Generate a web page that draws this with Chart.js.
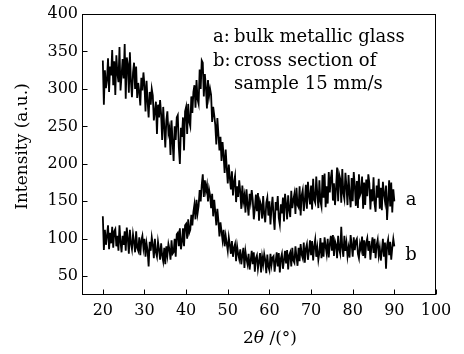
<!DOCTYPE html>
<html><head><meta charset="utf-8">
<script src="https://cdn.jsdelivr.net/npm/chart.js@4.4.1/dist/chart.umd.min.js"></script>
<style>html,body{margin:0;padding:0;background:#fff}canvas{display:block}</style>
</head><body>
<canvas id="c" width="464" height="354"></canvas>
<script>
// 2θ sampling grid (degrees)
const angleStart = 20;
const angleStep = 0.25;

// a: bulk metallic glass (4 readings per degree from 20° to 90°)
const seriesA = [
338,279,325,301, 312,341,296,330, 318,352,305,337, 292,345,321,309,
356,298,318,340, 314,360,287,342, 333,295,349,310, 289,322,335,300,
330,288,308,296, 278,315,298,322, 305,270,311,284, 262,296,279,300,
291,258,270,283, 240,279,262,285, 266,232,276,250, 222,258,270,241,
248,212,258,229, 204,250,232,262, 265,222,200,248, 236,262,218,270,
276,240,280,256, 250,290,268,296, 305,275,312,286, 280,326,300,338,
335,290,320,302, 274,312,290,300, 292,256,276,265, 252,226,261,240,
218,236,204,229, 211,188,219,195, 174,199,181,166, 190,158,176,184,
149,170,156,178, 163,140,171,150, 158,135,166,146, 131,160,149,165,
152,126,140,159, 137,161,124,150, 145,127,157,133, 122,148,155,131,
150,119,141,156, 130,112,149,138, 157,128,119,146, 134,155,123,160,
147,126,158,139, 129,164,141,152, 160,133,168,145, 142,170,131,158,
165,137,151,172, 140,176,158,146, 171,139,180,152, 148,183,160,141,
178,150,143,185, 155,187,142,170, 147,189,162,181, 192,151,174,145,
168,195,150,186, 180,148,193,161, 153,188,170,145, 185,160,142,181,
150,189,171,144, 177,141,186,158, 162,183,140,175, 145,179,157,186,
174,139,166,150, 182,147,136,171, 155,180,140,168, 138,176,160,150,
171,125,152,178, 143,175,135,166, 150
];

// b: cross section of sample 15 mm/s
const seriesB = [
130,85,112,92, 104,118,86,108, 94,116,88,110, 113,90,104,84,
118,96,82,104, 92,110,84,115, 100,80,112,94, 86,106,96,82,
110,88,84,102, 78,98,104,88, 100,76,94,84, 63,96,84,102,
92,74,100,82, 76,96,86,72, 94,78,70,88, 66,90,78,93,
86,72,98,80, 82,100,76,106, 108,90,114,86, 96,114,90,118,
120,100,126,108, 112,132,118,136, 146,126,152,134, 144,165,150,172,
186,156,178,164, 172,150,166,158, 141,160,130,152, 136,118,140,124,
103,122,110,98, 112,90,104,94, 84,102,92,80, 97,76,88,93,
70,90,80,73, 86,66,78,88, 61,83,73,66, 80,59,71,84,
66,82,56,74, 78,60,70,81, 55,76,66,80, 72,54,79,63,
58,80,65,75, 77,56,70,82, 63,81,55,74, 80,60,72,84,
67,85,59,78, 82,63,88,71, 68,90,76,64, 88,70,93,79,
74,95,68,87, 93,72,84,98, 78,97,71,90, 99,76,88,72,
82,101,74,95, 76,102,90,80, 100,75,93,104, 84,105,77,97,
92,74,104,86, 80,116,88,76, 104,84,95,77, 88,75,105,92,
76,102,85,97, 100,80,74,93, 86,103,77,98, 74,95,101,84,
97,72,90,102, 81,100,74,92, 99,78,88,71, 84,100,76,95,
60,92,99,78, 96,72,88,100, 90
];

const xTicks = [20, 30, 40, 50, 60, 70, 80, 90, 100];
const yTicks = [50, 100, 150, 200, 250, 300, 350, 400];
const legendLines = [
  ['a:', 'bulk metallic glass'],
  ['b:', 'cross section of'],
  ['', 'sample 15 mm/s']
];
const curveLabels = [
  { text: 'a', x: 94, y: 151 },
  { text: 'b', x: 94, y: 78 }
];
const yTitle = 'Intensity (a.u.)';
const xTitleParts = [['2', 'normal'], ['\u03b8', 'italic'], [' /(\u00b0)', 'normal']];

const FONT = 'DejaVu Serif';
const angles = seriesA.map((_, i) => angleStart + i * angleStep);

const decor = {
  id: 'decor',
  afterDraw(chart) {
    const ctx = chart.ctx;
    const a = chart.chartArea;
    const xs = chart.scales.x, ys = chart.scales.y;
    ctx.save();
    ctx.strokeStyle = '#000';
    ctx.lineWidth = 1;
    const L = Math.round(a.left) + 0.5, R = Math.round(a.right) - 0.5;
    const T = Math.round(a.top) + 0.5, B = Math.round(a.bottom) - 0.5;
    ctx.strokeRect(L, T, R - L, B - T);
    ctx.beginPath();
    xTicks.forEach(v => {
      const px = Math.round(xs.getPixelForValue(v)) + 0.5;
      ctx.moveTo(px, B); ctx.lineTo(px, B - 5);
    });
    yTicks.forEach(v => {
      const py = Math.round(ys.getPixelForValue(v)) + 0.5;
      ctx.moveTo(L, py); ctx.lineTo(L + 5, py);
    });
    ctx.stroke();

    ctx.fillStyle = '#000';
    // legend text block
    ctx.font = '18px "' + FONT + '"';
    ctx.textBaseline = 'alphabetic';
    ctx.textAlign = 'left';
    legendLines.forEach((ln, i) => {
      const y = a.top + 28 + i * 23.5;
      if (ln[0]) ctx.fillText(ln[0], a.left + 131, y);
      ctx.fillText(ln[1], a.left + 152, y);
    });
    // curve labels
    ctx.textBaseline = 'middle';
    ctx.textAlign = 'center';
    curveLabels.forEach(c => {
      ctx.fillText(c.text, xs.getPixelForValue(c.x), ys.getPixelForValue(c.y));
    });
    // y title
    ctx.save();
    ctx.font = '17px "' + FONT + '"';
    ctx.translate(23, (a.top + a.bottom) / 2 - 8);
    ctx.rotate(-Math.PI / 2);
    ctx.textAlign = 'center';
    ctx.textBaseline = 'middle';
    ctx.fillText(yTitle, 0, 0);
    ctx.restore();
    // x title
    ctx.textBaseline = 'alphabetic';
    ctx.textAlign = 'left';
    let total = 0;
    xTitleParts.forEach(p => { ctx.font = p[1] + ' 17px "' + FONT + '"'; total += ctx.measureText(p[0]).width; });
    let x = (a.left + a.right) / 2 + 11 - total / 2;
    xTitleParts.forEach(p => { ctx.font = p[1] + ' 17px "' + FONT + '"'; ctx.fillText(p[0], x, 343); x += ctx.measureText(p[0]).width; });
    ctx.restore();
  }
};

const lineStyle = { borderColor: '#000', borderWidth: 1.8, pointRadius: 0, tension: 0, fill: false, borderJoinStyle: 'miter' };

new Chart(document.getElementById('c'), {
  type: 'line',
  data: {
    datasets: [
      Object.assign({ label: 'a', data: angles.map((x, i) => ({ x, y: seriesA[i] })) }, lineStyle),
      Object.assign({ label: 'b', data: angles.map((x, i) => ({ x, y: seriesB[i] })) }, lineStyle)
    ]
  },
  options: {
    responsive: false,
    animation: false,
    devicePixelRatio: 1,
    layout: { padding: { left: 0, right: 28, top: 14, bottom: 0 } },
    plugins: { legend: { display: false }, tooltip: { enabled: false } },
    scales: {
      x: {
        type: 'linear', min: 15, max: 100,
        afterBuildTicks: s => { s.ticks = xTicks.map(v => ({ value: v })); },
        afterFit: s => { s.height = 59; },
        grid: { display: false, drawTicks: false },
        border: { display: false },
        ticks: { color: '#000', font: { family: FONT, size: 16 }, padding: 6, maxRotation: 0, autoSkip: false }
      },
      y: {
        type: 'linear', min: 25, max: 400,
        afterBuildTicks: s => { s.ticks = yTicks.map(v => ({ value: v })); },
        afterFit: s => { s.width = 82; },
        grid: { display: false, drawTicks: false },
        border: { display: false },
        ticks: { color: '#000', font: { family: FONT, size: 16 }, padding: 4, autoSkip: false }
      }
    }
  },
  plugins: [decor]
});
</script>
</body></html>
